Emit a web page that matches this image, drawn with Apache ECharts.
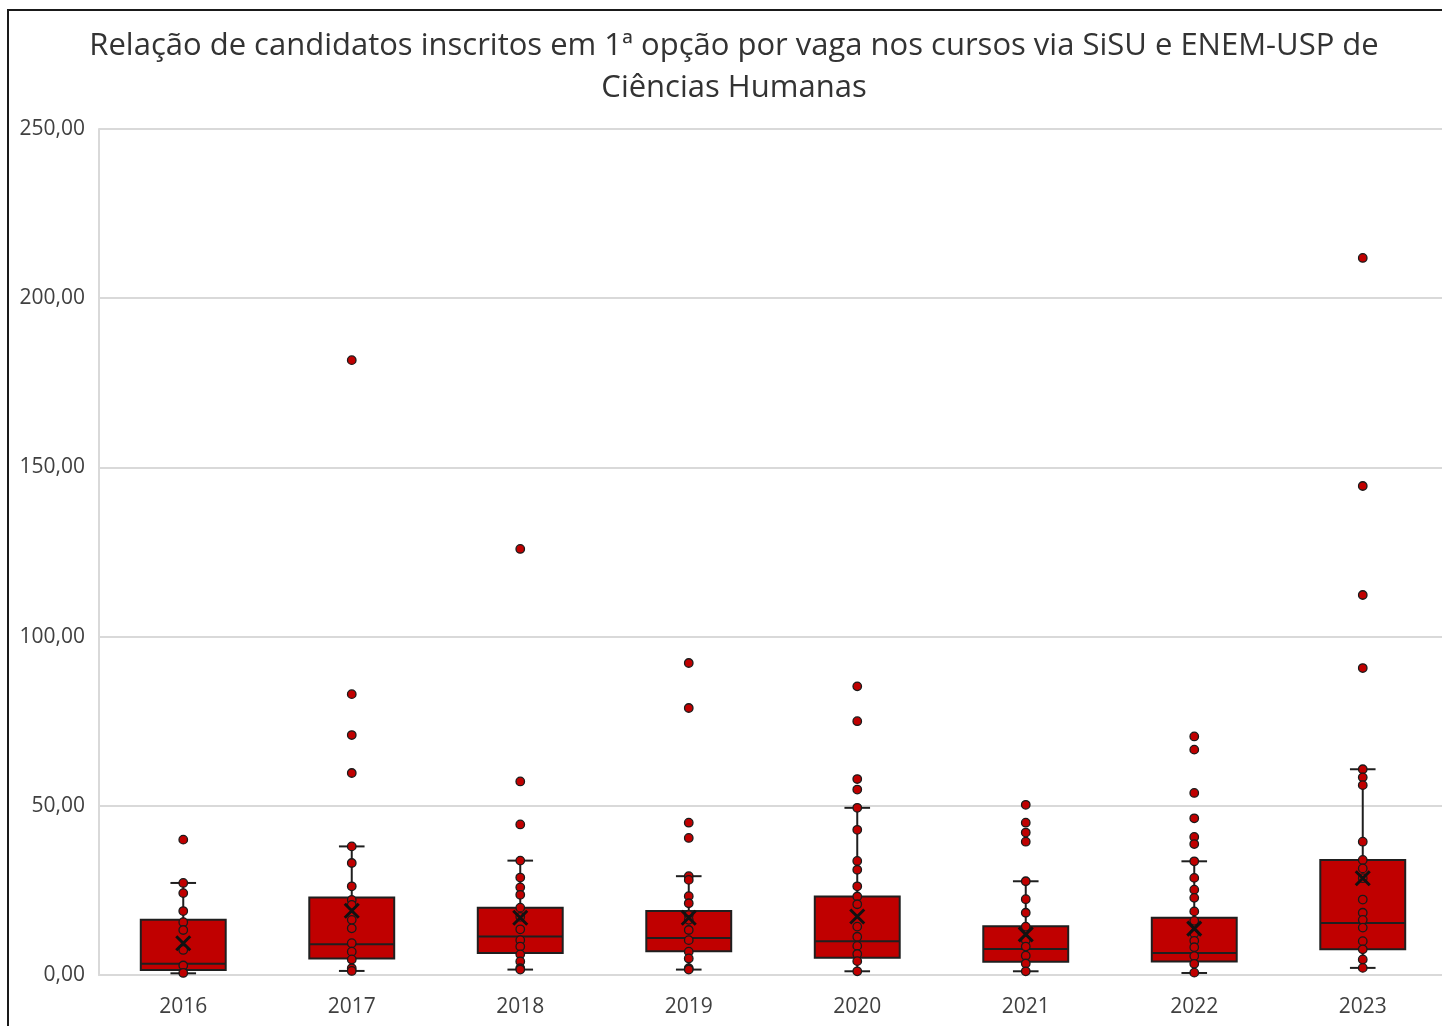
<!DOCTYPE html>
<html>
<head>
<meta charset="utf-8">
<script src="https://cdn.jsdelivr.net/npm/echarts@6/dist/echarts.min.js"></script>
<style>
  html, body { margin: 0; padding: 0; background: #fff; overflow: hidden; }
  #chart { position: absolute; left: 0; top: 0; width: 1468px; height: 1026px; }
  #frame {
    position: absolute; left: 7px; top: 9px; width: 1500px; height: 1100px;
    border-left: 2px solid #1a1a1a; border-top: 2px solid #1a1a1a;
    pointer-events: none;
  }
</style>
</head>
<body>
<div id="chart"></div>
<div id="frame"></div>
<script>
const years = ['2016', '2017', '2018', '2019', '2020', '2021', '2022', '2023']

// box statistics
const whiskerLow = [0.5, 1.2, 1.6, 1.6, 1.1, 1.1, 0.6, 2.1]
const q1 = [1.5, 4.9, 6.5, 7.0, 5.1, 3.9, 4.0, 7.6]
const median = [3.3, 9.1, 11.4, 10.9, 10.0, 7.7, 6.5, 15.4]
const q3 = [16.3, 22.9, 19.9, 18.9, 23.2, 14.4, 16.9, 34.0]
const whiskerHigh = [27.2, 38.0, 33.8, 29.2, 49.4, 27.7, 33.6, 60.8]
const mean = [9.4, 19.0, 16.9, 16.9, 17.3, 12.0, 13.7, 28.6]

// individual courses (inner points + outliers)
const points2016 = [40.0, 27.2, 24.2, 18.9, 15.6, 13.3, 7.4, 2.8, 0.6]
const points2017 = [181.7, 83.0, 70.9, 59.7, 38.0, 33.1, 26.2, 22.2, 20.7, 16.3, 13.8, 9.4, 6.9, 4.6, 2.0, 1.2]
const points2018 = [125.9, 57.2, 44.5, 33.8, 28.8, 25.9, 23.7, 19.9, 17.2, 13.5, 10.3, 8.4, 6.1, 4.0, 2.0, 1.6]
const points2019 = [92.2, 78.9, 45.0, 40.5, 29.2, 28.1, 23.3, 21.2, 17.7, 16.3, 13.3, 10.3, 6.9, 4.9, 2.0, 1.6]
const points2020 = [85.3, 75.0, 57.9, 54.8, 49.4, 42.9, 33.7, 31.1, 26.2, 23.2, 20.9, 14.3, 11.3, 8.6, 6.2, 4.1, 1.1]
const points2021 = [50.3, 45.0, 42.1, 39.4, 27.7, 22.4, 18.4, 14.3, 10.3, 8.4, 5.7, 3.4, 1.1]
const points2022 = [70.5, 66.6, 53.8, 46.3, 40.8, 38.7, 33.6, 28.7, 25.2, 22.8, 18.8, 16.0, 12.3, 10.1, 8.2, 5.6, 3.3, 0.7]
const points2023 = [211.9, 144.5, 112.3, 90.7, 60.8, 58.4, 56.1, 39.4, 34.0, 31.5, 28.6, 22.3, 18.4, 16.3, 14.0, 10.0, 7.6, 4.6, 2.1]

const pointsByYear = [points2016, points2017, points2018, points2019, points2020, points2021, points2022, points2023]

const boxColor = '#c00000'
const lineColor = '#1f1f1f'
const font = '"Open Sans", sans-serif'

function renderBox(params, api) {
  const x = api.value(0)
  const low = api.coord([x, api.value(1)])
  const lo = api.coord([x, api.value(2)])
  const mid = api.coord([x, api.value(3)])
  const hi = api.coord([x, api.value(4)])
  const high = api.coord([x, api.value(5)])
  const band = api.size([1, 0])[0]
  const half = band * 0.252
  const cap = band * 0.076
  const stroke = { stroke: lineColor, lineWidth: 2 }
  return {
    type: 'group',
    children: [
      { type: 'line', shape: { x1: low[0], y1: low[1], x2: high[0], y2: high[1] }, style: stroke },
      { type: 'line', shape: { x1: low[0] - cap, y1: low[1], x2: low[0] + cap, y2: low[1] }, style: stroke },
      { type: 'line', shape: { x1: high[0] - cap, y1: high[1], x2: high[0] + cap, y2: high[1] }, style: stroke },
      {
        type: 'rect',
        shape: { x: hi[0] - half, y: hi[1], width: half * 2, height: lo[1] - hi[1] },
        style: { fill: boxColor, stroke: lineColor, lineWidth: 2 },
      },
      { type: 'line', shape: { x1: mid[0] - half, y1: mid[1], x2: mid[0] + half, y2: mid[1] }, style: stroke },
    ],
  }
}

const chart = echarts.init(document.getElementById('chart'))
chart.setOption({
  animation: false,
  backgroundColor: '#fff',
  title: {
    text: 'Relação de candidatos inscritos em 1ª opção por vaga nos cursos via SiSU e ENEM-USP de\nCiências Humanas',
    left: 'center',
    top: 20,
    textStyle: { color: '#333', fontFamily: font, fontWeight: 'normal', fontSize: 31, lineHeight: 42 },
  },
  grid: { left: 99, top: 129, width: 1348, height: 846, containLabel: false },
  xAxis: {
    type: 'category',
    data: years,
    axisLine: { lineStyle: { color: '#d9d9d9', width: 2 } },
    axisTick: { show: false },
    axisLabel: { color: '#404040', fontFamily: font, fontSize: 21, margin: 22 },
  },
  yAxis: {
    type: 'value',
    min: 0,
    max: 250,
    interval: 50,
    axisLine: { show: true, lineStyle: { color: '#d9d9d9', width: 2 } },
    splitLine: { lineStyle: { color: '#d9d9d9', width: 2 } },
    axisLabel: {
      color: '#404040',
      fontFamily: font,
      fontSize: 21,
      margin: 14,
      formatter: (v) => v.toFixed(2).replace('.', ','),
    },
  },
  series: [
    {
      type: 'custom',
      renderItem: renderBox,
      encode: { x: 0, y: [1, 2, 3, 4, 5] },
      data: years.map((_, i) => [i, whiskerLow[i], q1[i], median[i], q3[i], whiskerHigh[i]]),
      z: 2,
    },
    {
      type: 'scatter',
      data: pointsByYear.flatMap((vals, i) => vals.map((v) => [i, v])),
      symbolSize: 8.5,
      itemStyle: { color: boxColor, borderColor: '#1a1a1a', borderWidth: 1.3, opacity: 1 },
      z: 3,
    },
    {
      type: 'scatter',
      data: mean.map((v, i) => [i, v]),
      symbol: 'path://M0,0L10,10M10,0L0,10',
      symbolSize: 14,
      itemStyle: { color: 'none', borderColor: '#111', borderWidth: 3, opacity: 1 },
      z: 4,
    },
  ],
})
</script>
</body>
</html>
